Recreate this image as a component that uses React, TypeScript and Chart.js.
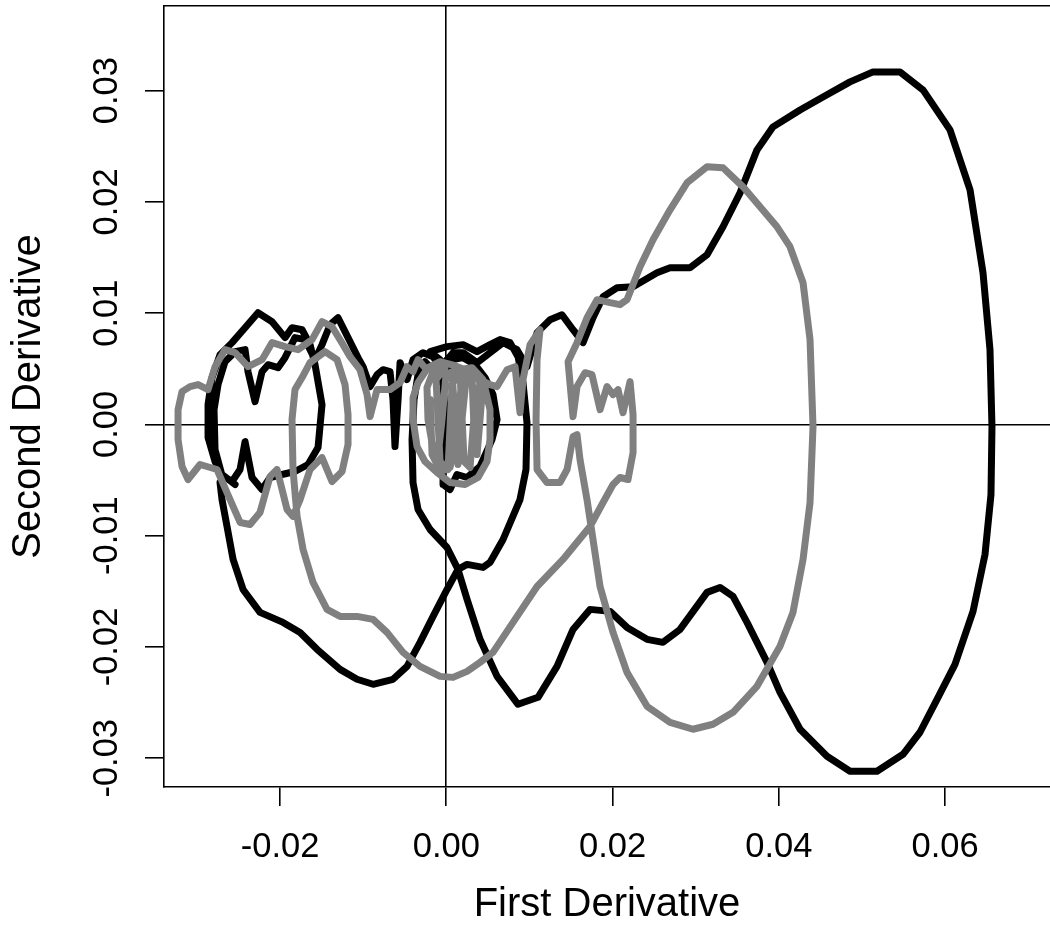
import React, { useEffect, useRef } from "react";
import { Chart, registerables } from "chart.js";

Chart.register(...registerables);

// Black trajectory (first derivative, second derivative)
const blackX = [
  -0.02541, -0.02698, -0.02782, -0.02866, -0.02866, -0.02818, -0.02722, -0.02577, -0.02421, -0.02265,
  -0.02096, -0.0194, -0.01856, -0.01735, -0.01639, -0.01579, -0.01495, -0.01543, -0.01663, -0.0182,
  -0.01976, -0.0212, -0.02217, -0.02337, -0.02421, -0.02481, -0.02577, -0.02698, -0.02782, -0.02794,
  -0.02746, -0.02662, -0.02541, -0.02421, -0.02385, -0.02301, -0.02217, -0.02144, -0.02024, -0.0194,
  -0.0182, -0.01699, -0.01579, -0.01495, -0.01398, -0.01302, -0.01182, -0.01062, -0.01001, -0.00917,
  -0.00833, -0.00761, -0.00677, -0.00641, -0.00617, -0.0058, -0.00556, -0.00472, -0.004, -0.0028,
  -0.00159, -0.00075, 0.00009, 0.00081, 0.00202, 0.0037, 0.00526, 0.00683, 0.00851, 0.00971,
  0.01092, 0.01248, 0.01392, 0.01525, 0.01645, 0.01765, 0.01886, 0.02054, 0.02247, 0.02535,
  0.02692, 0.02932, 0.03137, 0.03329, 0.03534, 0.03738, 0.03931, 0.04256, 0.04532, 0.04857,
  0.05134, 0.05459, 0.05735, 0.0606, 0.06301, 0.06457, 0.06541, 0.06565, 0.06553, 0.06481,
  0.06337, 0.0612, 0.05904, 0.05699, 0.05495, 0.05182, 0.04857, 0.0458, 0.04256, 0.04015,
  0.03859, 0.03618, 0.0345, 0.03293, 0.03137, 0.02812, 0.02607, 0.02415, 0.02174, 0.0197,
  0.01729, 0.01525, 0.01332, 0.01104, 0.00863, 0.00611, 0.00406, 0.0025, 0.00141, 0.00009,
  -0.00195, -0.0034, -0.004, -0.00412, -0.00388, -0.0034, -0.00256, -0.00135, -0.00039, -0.00015,
  -0.00039, -0.00039, 0.00045, 0.00129, 0.0025, 0.00406, 0.0055, 0.00611, 0.00562, 0.00466,
  0.00346, 0.00202, 0.00081, 0.00009, -0.00075, -0.00195,
  0.00009, 0.00202, 0.0037, 0.00526, 0.00647, 0.00767, 0.00863, 0.00923, 0.00971, 0.00959,
  0.00887, 0.00683, 0.00526, 0.00442, 0.0025, 0.00141, 0.00009, -0.00159, -0.00316, -0.00472,
  -0.00641, -0.00881, -0.01074, -0.01278, -0.01555, -0.01759, -0.01964, -0.02241, -0.02445, -0.02565,
  -0.02638, -0.02698, -0.02722,
];
const blackY = [
  -0.0054, -0.0045, -0.00333, -0.00118, 0.00178, 0.00421, 0.00627, 0.00735, 0.00869, 0.01004,
  0.00923, 0.0078, 0.00869, 0.00851, 0.00717, 0.00537, 0.00178, -0.00208, -0.0036, -0.00423,
  -0.0045, -0.00477, -0.00585, -0.00477, -0.00154, -0.00405, -0.00513, -0.00459, -0.00226, 0.00133,
  0.00358, 0.00564, 0.00654, 0.00672, 0.00474, 0.00205, 0.00474, 0.00537, 0.0051, 0.006,
  0.0078, 0.00762, 0.00582, 0.00717, 0.00896, 0.00959, 0.0078, 0.006, 0.00519, 0.0034,
  0.00447, 0.00492, 0.00474, 0.00223, -0.00199, 0.00223, 0.00555, 0.00403, 0.00582, 0.00645,
  0.00609, 0.00519, 0.00582, 0.00645, 0.00645, 0.00555, 0.00645, 0.00735, 0.00672, 0.00519,
  0.00825, 0.00941, 0.00986, 0.00851, 0.00735, 0.00959, 0.01148, 0.01228, 0.01237, 0.01363,
  0.01408, 0.01408, 0.01525, 0.01776, 0.02081, 0.02467, 0.02674, 0.02826, 0.02943, 0.03078,
  0.03168, 0.03168, 0.03006, 0.02647, 0.02108, 0.01363, 0.00672, -0.00019, -0.0063, -0.01168,
  -0.0168, -0.02156, -0.0247, -0.02766, -0.02964, -0.03116, -0.03116, -0.02982, -0.02739, -0.02407,
  -0.02138, -0.01779, -0.01545, -0.01465, -0.01509, -0.01842, -0.01958, -0.01931, -0.01824, -0.0168,
  -0.01662, -0.01842, -0.02174, -0.02452, -0.02515, -0.02264, -0.01931, -0.01572, -0.01303, -0.01106,
  -0.00944, -0.00764, -0.00522, -0.00136, 0.00223, 0.00447, 0.00564, 0.00474, 0.00358, 0.00133,
  -0.00226, -0.0054, -0.00585, -0.0045, -0.00477, -0.00378, -0.00136, 0.00044, 0.00268, 0.00421,
  0.00537, 0.006, 0.00582, 0.00447, 0.00582, 0.00654,
  0.00699, 0.00717, 0.00654, 0.00717, 0.00762, 0.00735, 0.00609, 0.00376, 0.00017, -0.00405,
  -0.00675, -0.01034, -0.0124, -0.01285, -0.01258, -0.01303, -0.01483, -0.01725, -0.01958, -0.02174,
  -0.0229, -0.02335, -0.0229, -0.02201, -0.02021, -0.01869, -0.01779, -0.01689, -0.01483, -0.01213,
  -0.00917, -0.00675, -0.00522,
];

// Gray trajectory
const grayX = [
  -0.00195, -0.00171, -0.00111, -0.00051, -0.00003, 0.00069, 0.00105, 0.00141, 0.00189, 0.00238,
  0.0031, 0.00334, 0.0037, 0.00406, 0.0043, 0.00382, 0.00286, 0.00189, 0.00117, 0.00045,
  -0.00063, -0.00147, -0.0022, -0.00232, -0.00159, -0.00015,
  -0.00123, -0.00075, 0.00021, 0.00069, 0.00165, 0.00214, 0.00286, 0.00358,
  0.00141, 0.0031, 0.00442, 0.00526,
  0.00526, 0.0049, 0.00382, 0.00226, 0.00045, -0.00111, -0.00256, -0.00352, -0.004, -0.004,
  -0.0034, -0.0022, -0.00075, 0.00105, 0.00286, 0.00406, 0.00526, 0.00611, 0.00731, 0.00827,
  0.00887, 0.00923, 0.01008, 0.01128, 0.01092, 0.0108, 0.01092, 0.01212, 0.01368, 0.01453,
  0.01525, 0.01573, 0.01609, 0.01693, 0.0185, 0.02006, 0.02174, 0.02415, 0.02692, 0.02968,
  0.03209, 0.0345, 0.03738, 0.04015, 0.04171, 0.04292, 0.04376, 0.04412, 0.04376, 0.04292,
  0.04135, 0.03979, 0.0357, 0.03329, 0.03137, 0.02896, 0.02692, 0.02487, 0.02331, 0.02174,
  0.0209, 0.0197, 0.01814, 0.01693, 0.01573, 0.01465, 0.01501, 0.01525, 0.01573, 0.01669,
  0.01753, 0.0185, 0.01934, 0.02006, 0.02066, 0.02126, 0.02211, 0.02247, 0.02247, 0.02186,
  0.0209, 0.02006, 0.01886, 0.01729, 0.01404, 0.01092, 0.00803, 0.00562, 0.00406, 0.0025,
  0.00081, -0.00075, -0.00316, -0.0052, -0.00713, -0.00881, -0.01074, -0.01278, -0.01435, -0.01603,
  -0.01723, -0.01795, -0.01844, -0.01856, -0.0182, -0.01735, -0.01639, -0.01459, -0.01314, -0.01218,
  -0.01182, -0.01182, -0.01254, -0.01374, -0.01495, -0.01639, -0.01759, -0.01844, -0.01916, -0.02036,
  -0.0212, -0.02241, -0.02361, -0.02481, -0.02638, -0.02758, -0.02962, -0.03107, -0.03179, -0.03227,
  -0.03227, -0.03179, -0.03083, -0.02986, -0.02866, -0.02782, -0.02662, -0.02541, -0.02385, -0.02217,
  -0.02096, -0.0194, -0.01783, -0.01615, -0.01495, -0.01374, -0.01242, -0.01158, -0.01038, -0.00953,
  -0.00917, -0.00833, -0.00677, -0.00556, -0.00472, -0.004, -0.0034, -0.00256,
];
const grayY = [
  0.00223, -0.00271, -0.0036, 0.00044, 0.00447, 0.00474, 0.00044, -0.0036, 0.00044, 0.00403,
  0.00421, -0.00046, -0.00271, 0.00044, 0.00268, 0.00447, 0.00474, 0.00421, -0.00136, -0.00387,
  -0.00423, -0.00271, 0.00044, 0.00331, 0.00474, 0.0051,
  0.00403, -0.00333, -0.00405, 0.00358, 0.00474, -0.00333, -0.00387, 0.00313,
  0.00492, 0.0051, 0.00403, 0.00133,
  -0.00136, -0.00333, -0.00477, -0.0054, -0.00522, -0.00432, -0.00333, -0.00199, 0.00044, 0.00241,
  0.00376, 0.0051, 0.00564, 0.00528, 0.00474, 0.00403, 0.00358, 0.0034, 0.00492, 0.00519,
  0.00106, 0.00403, 0.00717, 0.00851, 0.00582, 0.00044, -0.00405, -0.00522, -0.00522, -0.00405,
  -0.00109, -0.00091, -0.00316, -0.00675, -0.01456, -0.01869, -0.02228, -0.02533, -0.02677, -0.02739,
  -0.02694, -0.02587, -0.02353, -0.01994, -0.01689, -0.01213, -0.00702, -0.00019, 0.00762, 0.01273,
  0.01597, 0.01776, 0.02135, 0.02306, 0.02315, 0.02171, 0.01929, 0.01659, 0.01417, 0.01121,
  0.01076, 0.01094, 0.01121, 0.00959, 0.00735, 0.00564, 0.00268, 0.0007, 0.0034, 0.00465,
  0.00447, 0.00133, 0.0034, 0.00268, 0.00313, 0.00106, 0.00385, 0.00088, -0.00253, -0.00495,
  -0.00477, -0.0054, -0.00702, -0.00917, -0.01213, -0.01456, -0.01779, -0.02048, -0.02138, -0.02219,
  -0.02273, -0.02264, -0.02174, -0.02048, -0.01869, -0.01752, -0.01725, -0.01725, -0.01662, -0.0142,
  -0.01123, -0.00827, -0.00405, 0.00044, 0.00313, 0.00421, 0.00555, 0.00654, 0.00582, 0.00358,
  0.00088, -0.00181, -0.00423, -0.00513, -0.00298, -0.00405, -0.00675, -0.00827, -0.00764, -0.00405,
  -0.00468, -0.00791, -0.00899, -0.00881, -0.00612, -0.00405, -0.0036, -0.00495, -0.00378, -0.00136,
  0.00133, 0.00295, 0.0034, 0.00358, 0.00313, 0.00519, 0.00672, 0.00645, 0.00519, 0.00582,
  0.00735, 0.00699, 0.00672, 0.00762, 0.00923, 0.00878, 0.00717, 0.00609, 0.00492, 0.00268,
  0.0007, 0.00313, 0.00313, 0.00376, 0.00519, 0.00474, 0.00582, 0.0051,
];

const xTicks = [-0.02, 0.0, 0.02, 0.04, 0.06];
const yTicks = [-0.03, -0.02, -0.01, 0.0, 0.01, 0.02, 0.03];
const xLimits = [-0.03396, 0.07263];
const yLimits = [-0.03258, 0.0376];
const xTitle = "First Derivative";
const yTitle = "Second Derivative";

const FONT = "'Liberation Sans', Arial, Helvetica, sans-serif";

export default function App() {
  const ref = useRef<HTMLCanvasElement>(null);

  useEffect(() => {
    const pts = (xs: number[], ys: number[]) => xs.map((x, i) => ({ x, y: ys[i] }));
    const zeroGrid = (ctx: any) =>
      ctx.tick && Math.abs(ctx.tick.value) < 1e-12 ? "#000000" : "rgba(0,0,0,0)";
    const lineStyle = {
      showLine: true,
      pointRadius: 0,
      pointHoverRadius: 0,
      borderWidth: 7,
      borderJoinStyle: "round" as const,
      borderCapStyle: "round" as const,
      tension: 0,
      fill: false,
    };

    const chart = new Chart(ref.current!, {
      type: "scatter",
      data: {
        datasets: [
          { label: "gray", data: pts(grayX, grayY), borderColor: "#808080", backgroundColor: "#808080", order: 0, ...lineStyle },
          { label: "black", data: pts(blackX, blackY), borderColor: "#000000", backgroundColor: "#000000", order: 1, ...lineStyle },
        ],
      },
      options: {
        animation: false,
        responsive: false,
        maintainAspectRatio: false,
        layout: { padding: 0 },
        plugins: { legend: { display: false }, tooltip: { enabled: false } },
        scales: {
          x: {
            type: "linear",
            position: "bottom",
            min: xLimits[0],
            max: xLimits[1],
            afterBuildTicks: (s: any) => {
              s.ticks = xTicks.map((v) => ({ value: v }));
            },
            afterFit: (s: any) => {
              s.height = 153;
              s.paddingLeft = 0;
              s.paddingRight = 0;
            },
            ticks: {
              autoSkip: false,
              maxRotation: 0,
              minRotation: 0,
              padding: 21,
              color: "#000",
              font: { family: FONT, size: 34.5 },
              callback: (v: any) => Number(v).toFixed(2),
            },
            grid: {
              color: zeroGrid,
              lineWidth: 1.6,
              tickColor: "#000",
              tickLength: 19,
              tickWidth: 1.6,
            },
            border: { display: true, color: "#000", width: 1.6 },
            title: {
              display: true,
              text: xTitle,
              color: "#000",
              font: { family: FONT, size: 40 },
              padding: { top: 0, bottom: 11 },
            },
          },
          x2: {
            type: "linear",
            position: "top",
            min: xLimits[0],
            max: xLimits[1],
            afterFit: (s: any) => {
              s.height = 6;
              s.paddingLeft = 0;
              s.paddingRight = 0;
            },
            ticks: { display: false },
            grid: { display: false, drawTicks: false },
            border: { display: true, color: "#000", width: 1.6 },
          },
          y: {
            type: "linear",
            position: "left",
            min: yLimits[0],
            max: yLimits[1],
            afterBuildTicks: (s: any) => {
              s.ticks = yTicks.map((v) => ({ value: v }));
            },
            afterFit: (s: any) => {
              s.width = 164;
              s.paddingTop = 0;
              s.paddingBottom = 0;
            },
            ticks: {
              autoSkip: false,
              minRotation: 90,
              maxRotation: 90,
              crossAlign: "center",
              padding: -2,
              color: "#000",
              font: { family: FONT, size: 34.5 },
              callback: (v: any) => Number(v).toFixed(2),
            },
            grid: {
              color: zeroGrid,
              lineWidth: 1.6,
              tickColor: "#000",
              tickLength: 19,
              tickWidth: 1.6,
            },
            border: { display: true, color: "#000", width: 1.6 },
            title: {
              display: true,
              text: yTitle,
              color: "#000",
              font: { family: FONT, size: 40 },
              padding: { top: 5, bottom: 0 },
            },
          },
        },
      },
    });
    return () => chart.destroy();
  }, []);

  return (
    <div style={{ position: "fixed", left: 0, top: 0, width: 1050, height: 940, background: "#ffffff" }}>
      <canvas ref={ref} width={1050} height={940} style={{ display: "block", width: 1050, height: 940 }} />
    </div>
  );
}
